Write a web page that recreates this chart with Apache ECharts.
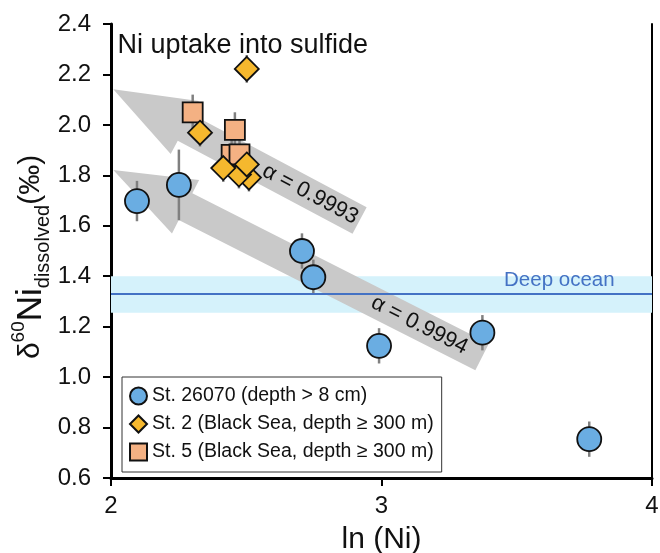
<!DOCTYPE html>
<html><head><meta charset="utf-8">
<script src="https://cdn.jsdelivr.net/npm/echarts@6/dist/echarts.min.js"></script>
<style>html,body{margin:0;padding:0;background:#fff}#c{width:660px;height:553px}</style>
</head><body><div id="c"></div>
<script>
// ---------- data ----------
const xMin = 2, xMax = 4, xStep = 1;
const yMin = 0.6, yMax = 2.4, yStep = 0.2;

const seriesNames = ['St. 26070 (depth > 8 cm)', 'St. 2 (Black Sea, depth \u2265 300 m)', 'St. 5 (Black Sea, depth \u2265 300 m)'];

const st26070X   = [2.096, 2.251, 2.706, 2.748, 2.991, 3.373, 3.768];
const st26070Y   = [1.698, 1.762, 1.500, 1.396, 1.124, 1.176, 0.754];
const st26070Err = [0.08, 0.14, 0.07, 0.07, 0.07, 0.07, 0.07];

const st2X   = [2.502, 2.329, 2.510, 2.473, 2.415, 2.502];
const st2Y   = [2.222, 1.969, 1.791, 1.803, 1.829, 1.843];
const st2Err = [0.055, 0.055, 0.055, 0.055, 0.055, 0.055];

const st5X   = [2.302, 2.458, 2.446, 2.475];
const st5Y   = [2.050, 1.980, 1.881, 1.883];
const st5Err = [0.07, 0.07, 0.07, 0.07];

const deepOceanBand = [1.255, 1.400];
const deepOceanValue = 1.33;

// arrows: tip x, tip y, tail x, tail y
const arrowTipX  = [2.0085, 2.0085];
const arrowTipY  = [2.141, 1.821];
const arrowTailX = [2.919, 3.372];
const arrowTailY = [1.621, 1.080];
const arrowLabels = ['\u03b1 = 0.9993', '\u03b1 = 0.9994'];
const arrowLabelFrac = [0.80, 0.83];

const noteX = [2.024, 3.453];
const noteY = [2.315, 1.385];
const noteText = ['Ni uptake into sulfide', 'Deep ocean'];

const xAxisTitle = 'ln (Ni)';

// ---------- chart ----------
const FONT = '"Liberation Sans", Arial, Helvetica, sans-serif';
const chart = echarts.init(document.getElementById('c'), null, {renderer: 'canvas'});

const zip3 = (xs, ys, es) => xs.map((x, i) => [x, ys[i], es[i]]);
const allErr = [].concat(zip3(st26070X, st26070Y, st26070Err), zip3(st5X, st5Y, st5Err), zip3(st2X, st2Y, st2Err));

const markerBorder = {borderColor: '#111', borderWidth: 1.8};

const option = {
  backgroundColor: '#fff',
  animation: false,
  textStyle: {fontFamily: FONT},
  grid: {left: 111, right: 8, top: 24, bottom: 75, containLabel: false, outerBoundsMode: 'none'},
  xAxis: {
    type: 'value', min: xMin, max: xMax, interval: xStep,
    name: xAxisTitle, nameLocation: 'middle', nameGap: 47,
    nameTextStyle: {fontSize: 30, color: '#111', fontFamily: FONT},
    axisLine: {show: true, onZero: false, lineStyle: {color: '#000', width: 3}},
    axisTick: {show: true, inside: false, length: 8, lineStyle: {color: '#000', width: 2}},
    axisLabel: {fontSize: 24, color: '#111', margin: 16, fontFamily: FONT},
    splitLine: {show: false}
  },
  yAxis: [{
    type: 'value', min: yMin, max: yMax, interval: yStep,
    axisLine: {show: true, onZero: false, lineStyle: {color: '#000', width: 3}},
    axisTick: {show: true, inside: false, length: 8, lineStyle: {color: '#000', width: 2}},
    axisLabel: {fontSize: 24, color: '#111', margin: 20, fontFamily: FONT, formatter: v => v.toFixed(1)},
    splitLine: {show: false}
  }, {
    type: 'value', min: yMin, max: yMax, interval: yStep, position: 'right',
    axisLine: {show: true, onZero: false, lineStyle: {color: '#000', width: 2}},
    axisTick: {show: false}, axisLabel: {show: false}, splitLine: {show: false}
  }],
  legend: {
    orient: 'vertical', left: 122, top: 377,
    padding: [9, 8, 10, 7],
    itemWidth: 17, itemHeight: 17, itemGap: 8,
    borderColor: '#333', borderWidth: 1, backgroundColor: '#fff',
    textStyle: {fontSize: 19.5, color: '#111', fontFamily: FONT},
    data: seriesNames,
    selectedMode: false
  },
  graphic: [{
    type: 'text', x: 31, y: 257, rotation: Math.PI / 2,
    style: {
      text: '{d|\u03b4}{sup|60}{ni|Ni}{sub|dissolved}{p|(\u2030)}',
      align: 'center', verticalAlign: 'middle',
      fill: '#111', fontFamily: FONT,
      rich: {
        d:   {fontSize: 30, lineHeight: 44, fontFamily: FONT, fill: '#111'},
        sup: {fontSize: 19, lineHeight: 22, verticalAlign: 'top', fontFamily: FONT, fill: '#111'},
        ni:  {fontSize: 35, lineHeight: 44, fontFamily: FONT, fill: '#111'},
        sub: {fontSize: 20, lineHeight: 24, verticalAlign: 'bottom', fontFamily: FONT, fill: '#111'},
        p:   {fontSize: 30, lineHeight: 44, fontFamily: FONT, fill: '#111'}
      }
    }
  }],
  series: [
    { // deep ocean band + line
      type: 'scatter', name: 'deep', data: [], z: 1, silent: true,
      markArea: {silent: true, itemStyle: {color: '#d5f2fb'}, data: [[{yAxis: deepOceanBand[0]}, {yAxis: deepOceanBand[1]}]]},
      markLine: {silent: true, symbol: 'none', label: {show: false}, lineStyle: {color: '#4472c4', width: 2, type: 'solid'}, data: [{yAxis: deepOceanValue}]}
    },
    { // arrows
      type: 'custom', name: 'arrows', z: 3, silent: true,
      data: arrowTipX.map((x, i) => [x, arrowTipY[i], arrowTailX[i], arrowTailY[i], i]),
      renderItem(params, api) {
        const tip = api.coord([api.value(0), api.value(1)]);
        const tail = api.coord([api.value(2), api.value(3)]);
        const dx = tail[0] - tip[0], dy = tail[1] - tip[1];
        const L = Math.hypot(dx, dy);
        const ux = dx / L, uy = dy / L, nx = -uy, ny = ux;
        const H = 81, W = 30, w = 15;
        const p = (a, b) => [tip[0] + a * ux + b * nx, tip[1] + a * uy + b * ny];
        const pts = [p(0, 0), p(H, W), p(H, w), p(L, w), p(L, -w), p(H, -w), p(H, -W)];
        const i = api.value(4);
        const c = p(L * arrowLabelFrac[i], 0);
        return {type: 'group', children: [
          {type: 'polygon', shape: {points: pts}, style: {fill: '#c9c9c9'}},
          {type: 'text', x: c[0], y: c[1], rotation: -Math.atan2(dy, dx),
           style: {text: arrowLabels[i], fontSize: 22, fontFamily: FONT, fill: '#111', align: 'center', verticalAlign: 'middle'}}
        ]};
      }
    },
    { // notes
      type: 'custom', name: 'notes', z: 3, silent: true,
      data: noteX.map((x, i) => [x, noteY[i], i]),
      renderItem(params, api) {
        const pt = api.coord([api.value(0), api.value(1)]);
        const i = api.value(2);
        return {type: 'text', x: pt[0], y: pt[1],
          style: {text: noteText[i], fontSize: i === 0 ? 27 : 20.5, fontFamily: FONT,
                  fill: i === 0 ? '#111' : '#4472c4', align: 'left', verticalAlign: 'middle'}};
      }
    },
    { // error bars
      type: 'custom', name: 'err', z: 4, silent: true,
      data: allErr,
      renderItem(params, api) {
        const a = api.coord([api.value(0), api.value(1) + api.value(2)]);
        const b = api.coord([api.value(0), api.value(1) - api.value(2)]);
        return {type: 'line', shape: {x1: a[0], y1: a[1], x2: b[0], y2: b[1]}, style: {stroke: '#808080', lineWidth: 2.5}};
      }
    },
    {
      type: 'scatter', name: seriesNames[0], z: 5, symbol: 'circle', symbolSize: 24,
      itemStyle: Object.assign({color: '#6aade2', opacity: 1}, markerBorder),
      data: st26070X.map((x, i) => [x, st26070Y[i]])
    },
    {
      type: 'scatter', name: seriesNames[2], z: 6, symbol: 'rect', symbolSize: 20,
      itemStyle: Object.assign({color: '#f4b183', opacity: 1}, markerBorder),
      data: st5X.map((x, i) => [x, st5Y[i]])
    },
    {
      type: 'scatter', name: seriesNames[1], z: 7, symbol: 'diamond', symbolSize: 24,
      itemStyle: Object.assign({color: '#f5b82e', opacity: 1}, markerBorder),
      data: st2X.map((x, i) => [x, st2Y[i]])
    }
  ]
};
chart.setOption(option);
</script>
</body></html>
